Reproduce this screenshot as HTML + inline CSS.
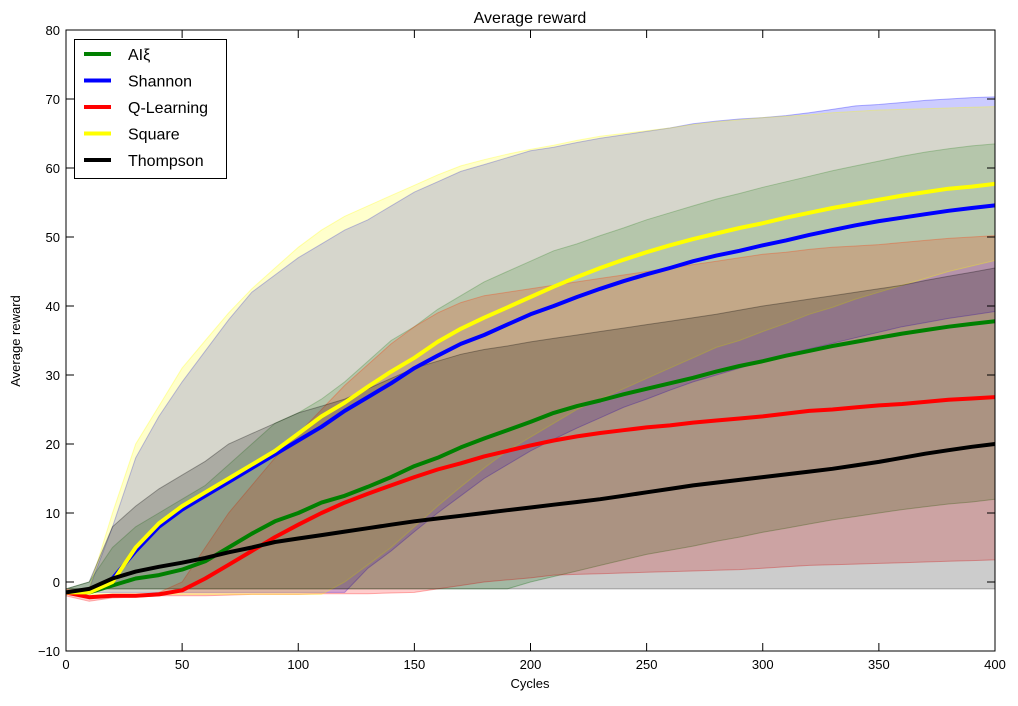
<!DOCTYPE html>
<html><head><meta charset="utf-8"><style>
body{margin:0;background:#fff;}
svg text{font-family:"Liberation Sans","DejaVu Sans",sans-serif;}
</style></head><body>
<svg id="chart" width="1018" height="701" xmlns="http://www.w3.org/2000/svg">
<rect width="1018" height="701" fill="#fff"/>
<defs><clipPath id="pc"><rect x="66" y="30" width="929" height="621"/></clipPath></defs>
<g id="bands" clip-path="url(#pc)"></g>
<g id="lines" clip-path="url(#pc)"></g>
<g id="axes"></g>
<text x="530" y="23" text-anchor="middle" font-size="16">Average reward</text>
<text x="530" y="688" text-anchor="middle" font-size="13">Cycles</text>
<text x="20" y="341" text-anchor="middle" font-size="13" transform="rotate(-90 20 341)">Average reward</text>
<g id="legend"></g>
</svg>
<script>
const xs=[0,10,20,30,40,50,60,70,80,90,100,110,120,130,140,150,160,170,180,190,200,210,220,230,240,250,260,270,280,290,300,310,320,330,340,350,360,370,380,390,400];
const seriesNames=["AIξ","Shannon","Q-Learning","Square","Thompson"];
const aiMean=[-1.5,-1.5,-0.5,0.5,1,1.8,3,5,7,8.8,10,11.5,12.5,13.8,15.2,16.8,18,19.5,20.8,22,23.2,24.5,25.5,26.3,27.2,28,28.8,29.6,30.5,31.3,32,32.8,33.5,34.2,34.8,35.4,36,36.5,37,37.4,37.8];
const aiUpper=[-1,0,5,8,10,12,14,17,20,23,24.5,26.5,29,32,35,37,39.5,41.5,43.5,45,46.5,48,49,50.2,51.3,52.5,53.5,54.5,55.5,56.3,57.2,58,58.8,59.6,60.3,61,61.7,62.3,62.8,63.2,63.5];
const aiLower=[-1,-1,-1,-1,-1,-1,-1,-1,-1,-1,-1,-1,-1,-1,-1,-1,-1,-1,-1,-1,0,0.8,1.6,2.4,3.2,4,4.6,5.2,5.9,6.5,7.2,7.8,8.4,9,9.5,10,10.5,10.9,11.3,11.6,12];
const shMean=[-1.5,-1.5,0.5,4.5,8,10.5,12.5,14.5,16.5,18.5,20.5,22.5,24.8,26.8,28.8,31,32.8,34.5,35.8,37.3,38.8,40,41.3,42.5,43.6,44.6,45.5,46.5,47.3,48,48.8,49.5,50.3,51,51.7,52.3,52.8,53.3,53.8,54.2,54.6];
const shUpper=[-1,-1,8,18,24,29,33.5,38,42,44.5,47,49,51,52.5,54.5,56.5,58,59.5,60.5,61.5,62.5,63,63.7,64.3,64.8,65.3,65.8,66.4,66.8,67.1,67.3,67.6,68,68.5,69,69.2,69.5,69.8,70,70.2,70.3];
const shLower=[-1.5,-1.5,-1.5,-1.5,-1.5,-1.5,-1.5,-1.5,-1.5,-1.5,-1.5,-1.5,-1.5,2,4.5,7.3,10,12.5,15,17,19,20.7,22.3,23.8,25.3,26.5,27.8,29,30,31,32,33,33.8,34.6,35.4,36.2,37,37.6,38.2,38.7,39.2];
const qMean=[-1.5,-2.2,-2,-2,-1.8,-1.2,0.5,2.5,4.5,6.5,8.3,10,11.5,12.8,14,15.2,16.3,17.2,18.2,19,19.8,20.5,21.1,21.6,22,22.4,22.7,23.1,23.4,23.7,24,24.4,24.8,25,25.3,25.6,25.8,26.1,26.4,26.6,26.8];
const qUpper=[-1,-2,-2,-2,-1.5,0,5,10,14,18,21.5,25,28.5,31.5,34.5,37,39,40.5,41.5,42,42.5,43,43.5,44,44.5,45,45.5,46,46.5,47,47.5,47.8,48.2,48.5,48.7,48.9,49.2,49.5,49.8,50,50.2];
const qLower=[-2,-2.8,-2.3,-2.2,-2,-2,-2,-1.9,-1.8,-1.8,-1.8,-1.7,-1.7,-1.7,-1.6,-1.5,-1,-0.5,0,0.3,0.6,1,1.1,1.2,1.3,1.4,1.5,1.6,1.7,1.8,2,2.2,2.4,2.5,2.6,2.7,2.8,2.9,3,3.1,3.2];
const sqMean=[-1.5,-1.5,0,5,8.5,11,13,15,17,19,21.5,24,26,28.3,30.5,32.5,34.8,36.7,38.3,39.8,41.3,42.8,44.2,45.5,46.7,47.8,48.8,49.7,50.5,51.3,52,52.8,53.5,54.2,54.8,55.4,56,56.5,57,57.3,57.7];
const sqUpper=[-1,-1,10,20,25.5,31,35,39,42.5,45.5,48.5,51,53,54.5,56,57.5,59,60.3,61.2,62,62.7,63.3,64,64.6,65,65.4,65.8,66.3,66.7,67,67.3,67.5,67.7,68,68.2,68.4,68.5,68.6,68.7,68.8,68.9];
const sqLower=[-1.8,-1.8,-1.8,-1.8,-1.8,-1.8,-1.8,-1.8,-1.8,-1.8,-1.8,-1.8,0,2.5,5,8,11,13.8,16.5,19,21,23,25,26.5,28,29.5,31,32.5,34,35,36.3,37.5,38.8,39.8,41,42,43,44,45,45.8,46.6];
const thMean=[-1.5,-1,0.5,1.5,2.2,2.8,3.5,4.3,5,5.8,6.3,6.8,7.3,7.8,8.3,8.8,9.2,9.6,10,10.4,10.8,11.2,11.6,12,12.5,13,13.5,14,14.4,14.8,15.2,15.6,16,16.4,16.9,17.4,18,18.6,19.1,19.6,20];
const thUpper=[-1,0,8,11,13.5,15.5,17.5,20,21.5,23,24.5,25.5,26.5,28,29.5,31,32,33,33.7,34.2,34.8,35.3,35.8,36.3,36.8,37.3,37.8,38.3,38.8,39.4,40,40.5,41,41.5,42,42.5,43,43.7,44.3,44.9,45.5];
const thLower=[-1,-1,-1,-1,-1,-1,-1,-1,-1,-1,-1,-1,-1,-1,-1,-1,-1,-1,-1,-1,-1,-1,-1,-1,-1,-1,-1,-1,-1,-1,-1,-1,-1,-1,-1,-1,-1,-1,-1,-1,-1];
const xTicks=[0,50,100,150,200,250,300,350,400];
const yTicks=[-10,0,10,20,30,40,50,60,70,80];

const X0=66,X1=995,Y0=651,Y1=30;
const sx=v=>X0+(v-0)/(400-0)*(X1-X0);
const sy=v=>Y0-(v+10)/(90)*(Y0-Y1);
const NS="http://www.w3.org/2000/svg";
function mk(t,p,a){const e=document.createElementNS(NS,t);for(const k in a)e.setAttribute(k,a[k]);p.appendChild(e);return e;}
const S=[
 {m:aiMean,u:aiUpper,l:aiLower,c:"#008000",k:"ai-xi"},
 {m:shMean,u:shUpper,l:shLower,c:"#0000ff",k:"shannon"},
 {m:qMean,u:qUpper,l:qLower,c:"#ff0000",k:"q-learning"},
 {m:sqMean,u:sqUpper,l:sqLower,c:"#ffff00",k:"square"},
 {m:thMean,u:thUpper,l:thLower,c:"#000000",k:"thompson"}];
const bands=document.getElementById('bands'),lines=document.getElementById('lines');
S.forEach(s=>{
 let d="M"+xs.map((x,i)=>sx(x).toFixed(1)+","+sy(s.u[i]).toFixed(1)).join("L");
 for(let i=xs.length-1;i>=0;i--)d+="L"+sx(xs[i]).toFixed(1)+","+sy(s.l[i]).toFixed(1);
 const p=mk('path',bands,{d:d+"Z",fill:s.c,'fill-opacity':0.2,stroke:s.c,'stroke-opacity':0.3});
 
 
});
S.forEach(s=>{
 const p=mk('path',lines,{d:"M"+xs.map((x,i)=>sx(x).toFixed(1)+","+sy(s.m[i]).toFixed(1)).join("L"),fill:"none",stroke:s.c,'stroke-width':4,'stroke-linejoin':'round'});
 
 
});
const ax=document.getElementById('axes');
const fr=mk('rect',ax,{x:X0,y:Y1,width:X1-X0,height:Y0-Y1,fill:"none",stroke:"#000",'stroke-width':1});


xTicks.forEach(t=>{const x=sx(t);
 mk('line',ax,{x1:x,x2:x,y1:Y0,y2:Y0-8,stroke:"#000"});mk('line',ax,{x1:x,x2:x,y1:Y1,y2:Y1+8,stroke:"#000"});
 const tx=mk('text',ax,{x:x,y:Y0+18,'text-anchor':'middle','font-size':13});tx.textContent=t;
 
 });
yTicks.forEach(t=>{const y=sy(t);
 mk('line',ax,{x1:X0,x2:X0+8,y1:y,y2:y,stroke:"#000"});mk('line',ax,{x1:X1,x2:X1-8,y1:y,y2:y,stroke:"#000"});
 const tx=mk('text',ax,{x:X0-6,y:y+5,'text-anchor':'end','font-size':13});tx.textContent=(t<0?"\u2212"+(-t):t);
 
 });
const lg=document.getElementById('legend');
mk('rect',lg,{x:74.5,y:39.5,width:152,height:139,fill:"#fff",stroke:"#000"});
S.forEach((s,i)=>{const y=54+i*26.5;
 const g=mk('g',lg,{});
 
 
 mk('line',g,{x1:84,x2:111,y1:y,y2:y,stroke:s.c,'stroke-width':4});
 const t=mk('text',g,{x:128,y:y+6,'font-size':16});t.textContent=seriesNames[i];});
</script>
</body></html>
